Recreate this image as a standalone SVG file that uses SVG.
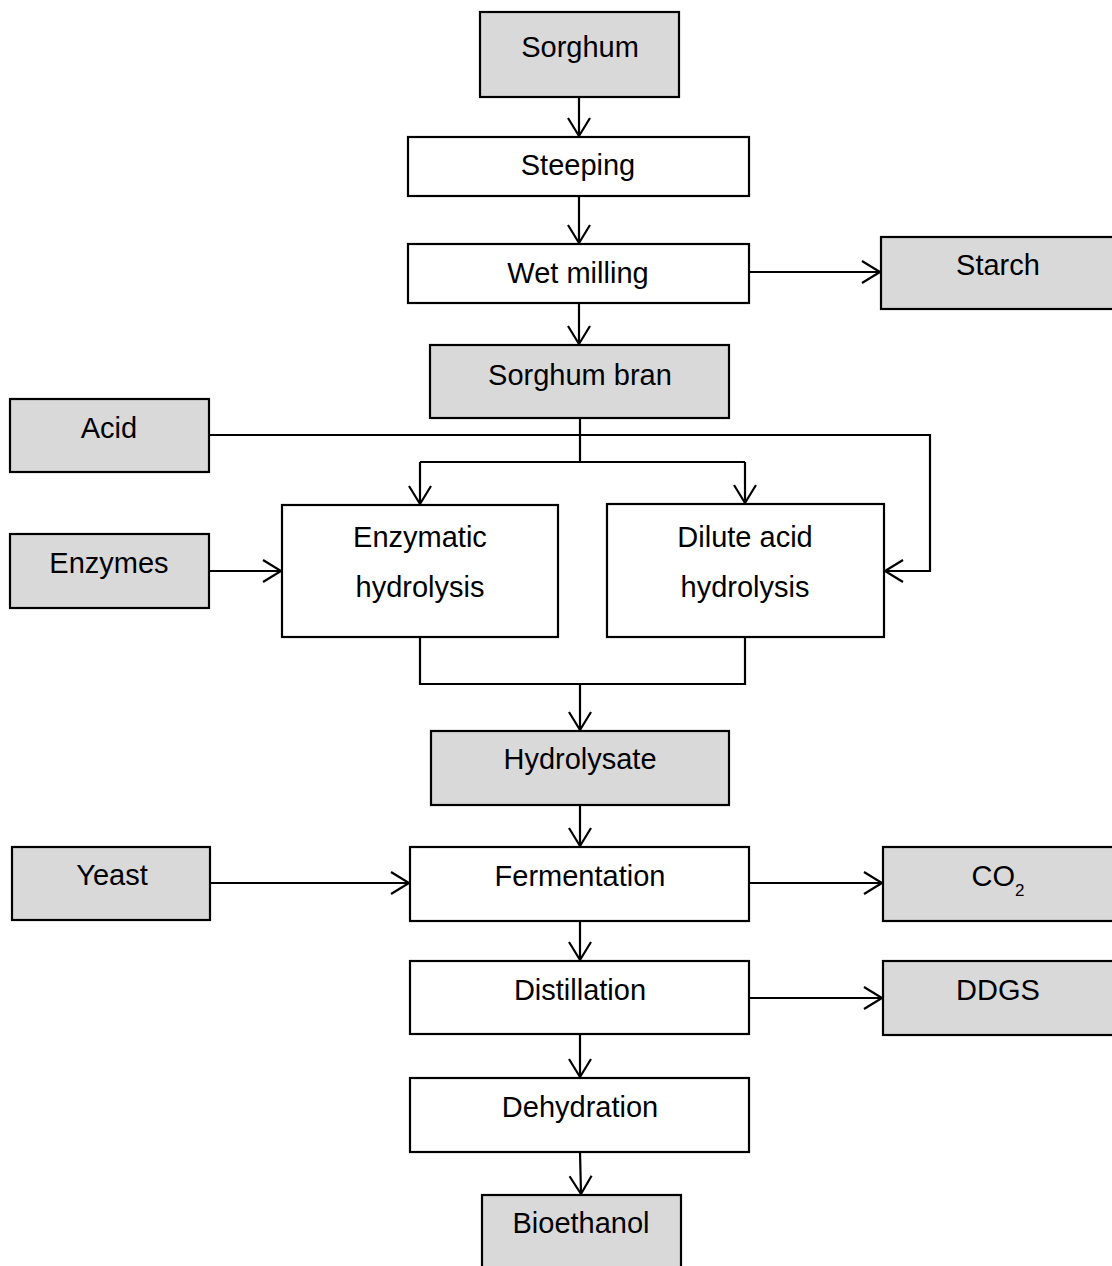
<svg xmlns="http://www.w3.org/2000/svg" width="1112" height="1266" viewBox="0 0 1112 1266">
<style>
.box{fill:#ffffff;stroke:#000000;stroke-width:2.2}
.in{fill:#d9d9d9;stroke:#000000;stroke-width:2.2}
.t{font-family:"Liberation Sans",Arial,sans-serif;font-size:29px;fill:#000000;text-anchor:middle}
.sub{font-size:17px}
.c{fill:none;stroke:#000000;stroke-width:2.2}
</style>
<defs>
<marker id="arr" markerUnits="userSpaceOnUse" markerWidth="24" markerHeight="26" viewBox="-20 -13 22 26" refX="0" refY="0" orient="auto">
<path d="M -18 -11 L 0 0 L -18 11" fill="none" stroke="#000000" stroke-width="2.2"/>
</marker>
</defs>
<rect width="1112" height="1266" fill="#ffffff"/>
<g id="connectors">
<path class="c" d="M 579 97 L 579 136" marker-end="url(#arr)"/>
<path class="c" d="M 579 196 L 579 243" marker-end="url(#arr)"/>
<path class="c" d="M 749 272 L 880 272" marker-end="url(#arr)"/>
<path class="c" d="M 579 303 L 579 344" marker-end="url(#arr)"/>
<path class="c" d="M 580 418 L 580 462"/>
<path class="c" d="M 420 462 L 745 462"/>
<path class="c" d="M 420 462 L 420 504" marker-end="url(#arr)"/>
<path class="c" d="M 745 462 L 745 503" marker-end="url(#arr)"/>
<path class="c" d="M 209 435 L 930 435 L 930 571 L 885 571" marker-end="url(#arr)"/>
<path class="c" d="M 209 571 L 281 571" marker-end="url(#arr)"/>
<path class="c" d="M 420 637 L 420 684 L 745 684 L 745 637"/>
<path class="c" d="M 580 684 L 580 730" marker-end="url(#arr)"/>
<path class="c" d="M 580 805 L 580 846" marker-end="url(#arr)"/>
<path class="c" d="M 210 883 L 409 883" marker-end="url(#arr)"/>
<path class="c" d="M 749 883 L 882 883" marker-end="url(#arr)"/>
<path class="c" d="M 580 921 L 580 960" marker-end="url(#arr)"/>
<path class="c" d="M 749 998 L 882 998" marker-end="url(#arr)"/>
<path class="c" d="M 580 1034 L 580 1077" marker-end="url(#arr)"/>
<path class="c" d="M 580 1152 L 581 1194" marker-end="url(#arr)"/>
</g>
<g id="sorghum"><rect class="in" x="480" y="12" width="199" height="85"/><text class="t" x="580" y="57">Sorghum</text></g>
<g id="steeping"><rect class="box" x="408" y="137" width="341" height="59"/><text class="t" x="578" y="175">Steeping</text></g>
<g id="wet-milling"><rect class="box" x="408" y="244" width="341" height="59"/><text class="t" x="578" y="283">Wet milling</text></g>
<g id="starch"><rect class="in" x="881" y="237" width="240" height="72"/><text class="t" x="998" y="275">Starch</text></g>
<g id="sorghum-bran"><rect class="in" x="430" y="345" width="299" height="73"/><text class="t" x="580" y="385">Sorghum bran</text></g>
<g id="acid"><rect class="in" x="10" y="399" width="199" height="73"/><text class="t" x="109" y="438">Acid</text></g>
<g id="enzymes"><rect class="in" x="10" y="534" width="199" height="74"/><text class="t" x="109" y="573">Enzymes</text></g>
<g id="enzymatic"><rect class="box" x="282" y="505" width="276" height="132"/><text class="t" x="420" y="547">Enzymatic</text><text class="t" x="420" y="597">hydrolysis</text></g>
<g id="dilute-acid"><rect class="box" x="607" y="504" width="277" height="133"/><text class="t" x="745" y="547">Dilute acid</text><text class="t" x="745" y="597">hydrolysis</text></g>
<g id="hydrolysate"><rect class="in" x="431" y="731" width="298" height="74"/><text class="t" x="580" y="769">Hydrolysate</text></g>
<g id="yeast"><rect class="in" x="12" y="847" width="198" height="73"/><text class="t" x="112" y="885">Yeast</text></g>
<g id="fermentation"><rect class="box" x="410" y="847" width="339" height="74"/><text class="t" x="580" y="886">Fermentation</text></g>
<g id="co2"><rect class="in" x="883" y="847" width="240" height="74"/><text class="t" x="998" y="886">CO<tspan class="sub" dy="10">2</tspan></text></g>
<g id="distillation"><rect class="box" x="410" y="961" width="339" height="73"/><text class="t" x="580" y="1000">Distillation</text></g>
<g id="ddgs"><rect class="in" x="883" y="961" width="240" height="74"/><text class="t" x="998" y="1000">DDGS</text></g>
<g id="dehydration"><rect class="box" x="410" y="1078" width="339" height="74"/><text class="t" x="580" y="1117">Dehydration</text></g>
<g id="bioethanol"><rect class="in" x="482" y="1195" width="199" height="85"/><text class="t" x="581" y="1233">Bioethanol</text></g>
</svg>
